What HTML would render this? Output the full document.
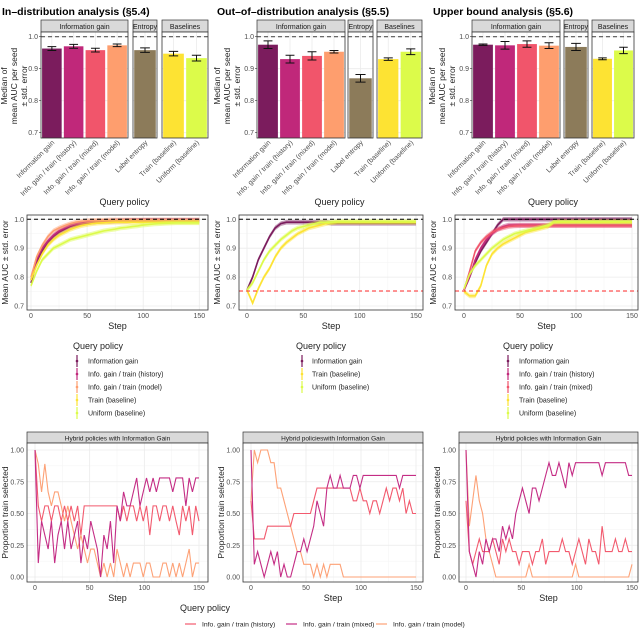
<!DOCTYPE html>
<html><head><meta charset="utf-8">
<style>
html,body{margin:0;padding:0;background:#fff;}
svg{display:block;font-family:"Liberation Sans",sans-serif;}
</style></head>
<body>
<svg id="fig" width="640" height="635" viewBox="0 0 640 635" xmlns="http://www.w3.org/2000/svg"></svg>
<script>
// ---------- DATA ----------
const barPolicies = ["Information gain","Info. gain / train (history)","Info. gain / train (mixed)","Info. gain / train (model)","Label entropy","Train (baseline)","Uniform (baseline)"];
const barColors = ["#7b1c5d","#c0287a","#f1556b","#fe9e6e","#8c7b5a","#fde333","#dcfb4a"];
const barValuesID = [0.963,0.970,0.958,0.973,0.958,0.947,0.933];
const barErrID = [0.006,0.006,0.006,0.004,0.007,0.007,0.009];
const barValuesOOD = [0.975,0.930,0.940,0.953,0.870,0.930,0.953];
const barErrOOD = [0.012,0.012,0.013,0.004,0.012,0.004,0.009];
const barValuesUB = [0.975,0.973,0.977,0.972,0.968,0.931,0.957];
const barErrUB = [0.002,0.012,0.010,0.009,0.011,0.003,0.010];
const barTicks = [0.7,0.8,0.9,1.0];

const curveSteps = [0,5,10,15,20,25,30,35,40,45,50,55,60,65,70,75,80,85,90,95,100,105,110,115,120,125,130,135,140,145,150];
const idIG = [0.78,0.85,0.89,0.92,0.94,0.955,0.965,0.975,0.98,0.985,0.988,0.99,0.992,0.993,0.994,0.995,0.995,0.996,0.996,0.996,0.997,0.997,0.997,0.997,0.997,0.997,0.997,0.997,0.997,0.997,0.997];
const idHist = [0.79,0.86,0.90,0.925,0.945,0.96,0.97,0.978,0.983,0.987,0.99,0.991,0.992,0.993,0.993,0.994,0.994,0.994,0.995,0.995,0.995,0.995,0.995,0.995,0.995,0.995,0.995,0.995,0.995,0.995,0.995];
const idModel = [0.80,0.87,0.91,0.94,0.96,0.97,0.978,0.985,0.99,0.993,0.995,0.996,0.997,0.997,0.998,0.998,0.998,0.998,0.998,0.998,0.998,0.998,0.998,0.998,0.998,0.998,0.998,0.998,0.998,0.998,0.998];
const idTrain = [0.79,0.84,0.88,0.91,0.93,0.945,0.955,0.965,0.972,0.978,0.982,0.985,0.987,0.988,0.989,0.99,0.99,0.99,0.99,0.99,0.99,0.99,0.99,0.99,0.99,0.99,0.99,0.99,0.99,0.99,0.99];
const idUnif = [0.77,0.82,0.86,0.88,0.90,0.91,0.92,0.93,0.935,0.94,0.945,0.95,0.955,0.96,0.963,0.966,0.97,0.972,0.975,0.977,0.98,0.982,0.984,0.985,0.986,0.987,0.988,0.988,0.988,0.988,0.988];
const oodIG = [0.755,0.80,0.86,0.90,0.94,0.97,0.985,0.99,0.99,0.99,0.99,0.99,0.99,0.99,0.99,0.986,0.986,0.986,0.986,0.986,0.986,0.986,0.986,0.986,0.986,0.986,0.986,0.986,0.986,0.986,0.986];
const oodTrain = [0.755,0.71,0.76,0.80,0.83,0.87,0.90,0.92,0.935,0.95,0.96,0.97,0.975,0.98,0.985,0.988,0.99,0.99,0.99,0.99,0.99,0.99,0.99,0.99,0.99,0.99,0.99,0.99,0.99,0.99,0.99];
const oodUnif = [0.755,0.78,0.82,0.86,0.89,0.91,0.93,0.945,0.96,0.97,0.975,0.98,0.985,0.99,0.99,0.99,0.992,0.992,0.992,0.992,0.992,0.992,0.992,0.992,0.992,0.992,0.992,0.992,0.992,0.992,0.992];
const ubIG = [0.755,0.80,0.85,0.89,0.92,0.95,0.98,1.0,1.0,1.0,1.0,1.0,1.0,1.0,1.0,1.0,1.0,1.0,1.0,1.0,1.0,1.0,1.0,1.0,1.0,1.0,1.0,1.0,1.0,1.0,1.0];
const ubHist = [0.755,0.80,0.86,0.90,0.93,0.95,0.965,0.975,0.98,0.98,0.98,0.98,0.98,0.98,0.98,0.98,0.98,0.98,0.98,0.98,0.98,0.98,0.98,0.98,0.98,0.98,0.98,0.98,0.98,0.98,0.98];
const ubMixed = [0.755,0.82,0.89,0.92,0.94,0.955,0.965,0.97,0.975,0.977,0.978,0.978,0.978,0.978,0.978,0.978,0.978,0.978,0.978,0.978,0.978,0.978,0.978,0.978,0.978,0.978,0.978,0.978,0.978,0.978,0.978];
const ubTrain = [0.75,0.735,0.735,0.77,0.84,0.88,0.90,0.915,0.925,0.935,0.945,0.955,0.96,0.965,0.97,0.975,0.99,0.99,0.99,0.99,0.99,0.99,0.99,0.99,0.99,0.99,0.99,0.99,0.99,0.99,0.99];
const ubUnif = [0.76,0.81,0.84,0.86,0.88,0.90,0.915,0.93,0.94,0.95,0.955,0.96,0.965,0.97,0.975,0.98,0.99,0.992,0.992,0.992,0.992,0.992,0.992,0.992,0.992,0.992,0.992,0.992,0.992,0.992,0.992];
const curveTicks = [0.7,0.8,0.9,1.0];
const stepTicks = [0,50,100,150];

const propStepSize = 3;
const id_hist = [1,.56,.44,.56,.56,.44,.56,.56,.44,.56,.44,.56,.44,.56,.33,.56,.56,.56,.56,.56,.56,.56,.56,.56,.56,.56,.44,.56,.44,.56,.56,.44,.56,.44,.56,.33,.56,.56,.44,.56,.56,.44,.56,.44,.33,.56,.44,.56,.33,.56,.44];
const id_mixed = [1,.11,.44,.33,.22,.44,.11,.33,.44,.22,.44,.22,.33,.44,.11,.33,.22,.44,.33,.22,0,.33,.22,.44,.11,.56,.44,.67,.56,.56,.67,.78,.56,.67,.78,.67,.78,.67,.78,.78,.78,.78,.67,.78,.78,.78,.56,.78,.67,.78,.78];
const id_model = [1,.89,.67,.89,.67,.56,.67,.67,.56,.44,.56,.44,.33,.22,.33,.22,.11,.22,.22,.11,0,.11,0,.11,0,.22,.11,0,.11,0,.11,.11,.11,0,.11,.11,0,0,0,.11,.11,0,.11,0,.11,0,.11,.22,0,.11,.11];
const ood_hist = [.6,.3,.3,.3,.3,.4,.4,.4,.4,.4,.4,.4,.4,.5,.5,.5,.5,.5,.5,.6,.7,.7,.7,.7,.7,.7,.7,.7,.7,.7,.7,.6,.6,.7,.6,.6,.5,.6,.6,.5,.6,.7,.6,.7,.7,.6,.7,.5,.6,.5,.5];
const ood_mixed = [1,.1,.2,.1,0,.1,.2,.1,.2,0,.1,0,0,.1,.2,.2,.3,.2,.3,.4,.6,.5,.4,.7,.8,.7,.7,.8,.7,.7,.7,.8,.8,.7,.8,.8,.8,.8,.8,.8,.8,.8,.8,.8,.8,.7,.8,.8,.8,.8,.8];
const ood_model = [.6,1,.9,1,1,1,.9,.9,.7,.7,.6,.5,.4,.3,.2,.2,.1,.1,.1,0,.1,0,.1,0,.1,.1,.1,.1,0,0,0,0,0,0,0,0,0,0,0,0,0,0,0,0,0,0,0,0,0,0,0];
const ub_hist = [.6,.2,.1,.2,.3,.2,.2,.2,.3,.2,.1,.3,.2,.3,.2,.2,.1,.2,.2,.2,.1,.2,.2,.3,.1,.2,.2,.2,.2,.3,.2,.2,.1,.2,.3,.2,.1,.3,.2,.2,.1,.4,.2,.2,.2,.3,.2,.2,.3,.2,.2];
const ub_mixed = [1,.2,.1,0,.2,.1,.3,.2,.3,.3,.2,.4,.3,.4,.3,.5,.6,.7,.6,.5,.7,.7,.6,.7,.8,.9,.8,.8,.9,.8,.7,.9,.8,.9,.9,.9,.9,.9,.9,.9,.9,.8,.9,.9,.9,.9,.9,.9,.9,.8,.8];
const ub_model = [1,.4,.6,.8,.6,.5,.3,.2,.1,0,0,0,0,0,0,0,0,0,0,.1,0,0,0,0,0,0,0,0,0,0,0,0,0,.1,0,0,0,0,0,0,0,0,0,0,0,0,0,0,0,0,.1];
const propTicks = [0,0.25,0.5,0.75,1.0];
const propTickLabels = ["0.00","0.25","0.50","0.75","1.00"];

// ---------- HELPERS ----------
const NS="http://www.w3.org/2000/svg";
const svg=document.getElementById('fig');
function mk(tag,attrs,parent){const e=document.createElementNS(NS,tag);for(const k in attrs)e.setAttribute(k,attrs[k]);(parent||svg).appendChild(e);return e;}
function txt(s,x,y,size,opts,parent){opts=opts||{};const e=mk('text',{x:x,y:y,'font-size':size,fill:opts.fill||'#222','text-anchor':opts.anchor||'start'},parent);if(opts.weight)e.setAttribute('font-weight',opts.weight);if(opts.rot!==undefined)e.setAttribute('transform','rotate('+opts.rot+' '+x+' '+y+')');e.textContent=s;return e;}

// ---------- TOP BAR CHARTS ----------
const titles=["In–distribution analysis (§5.4)","Out–of–distribution analysis (§5.5)","Upper bound analysis (§5.6)"];
const titleX=[2,217,433];
const barVals=[barValuesID,barValuesOOD,barValuesUB];
const barErrs=[barErrID,barErrOOD,barErrUB];
const facetLayouts=[
 [[41,128],[133,157],[162,208]],
 [[257,345],[348,373],[377,422]],
 [[472,560],[564,588],[592,634]]];
const facetNames=["Information gain","Entropy","Baselines"];
const facetIdx=[[0,1,2,3],[4],[5,6]];
const yTitleX=[[7,17,27],[220,230,240],[435,445,455]];
const yBar=v=>36.7+(1.0-v)*320;
const barTop=32,barBot=138;
for(let c=0;c<3;c++){
  const g=mk('g',{},svg);
  
  
  const t=txt(titles[c],titleX[c],15,10.5,{weight:'bold',fill:'#000'},g);
  
  ["Median of","mean AUC per seed","± std. error"].forEach((s,i)=>{const e=txt(s,yTitleX[c][i],86,8.5,{anchor:'middle',rot:-90},g);});
  facetLayouts[c].forEach((f,fi)=>{
    const x0=f[0],x1=f[1];
    const strip=mk('rect',{x:x0,y:20,width:x1-x0,height:12,fill:'#d9d9d9',stroke:'#333','stroke-width':0.7},g);
    
    txt(facetNames[fi],(x0+x1)/2,29,7,{anchor:'middle',fill:'#1a1a1a'},g);
    mk('rect',{x:x0,y:barTop,width:x1-x0,height:barBot-barTop,fill:'#fff'},g);
    barTicks.forEach(v=>mk('line',{x1:x0,x2:x1,y1:yBar(v),y2:yBar(v),stroke:'#ebebeb','stroke-width':0.8},g));
    const idxs=facetIdx[fi];
    const n=idxs.length,slot=(x1-x0)/n;
    idxs.forEach((pi,k)=>{
      const cx=x0+slot*(k+0.5),bw=slot*0.9,v=barVals[c][pi],er=barErrs[c][pi];
      mk('line',{x1:cx,x2:cx,y1:barTop,y2:barBot,stroke:'#ebebeb','stroke-width':0.8},g);
      const r=mk('rect',{x:cx-bw/2,y:yBar(v),width:bw,height:barBot-yBar(v),fill:barColors[pi]},g);
      
      
      const ew=bw*0.45;
      mk('path',{d:`M${cx-ew/2},${yBar(v+er)}H${cx+ew/2}M${cx},${yBar(v+er)}V${yBar(v-er)}M${cx-ew/2},${yBar(v-er)}H${cx+ew/2}`,stroke:'#111','stroke-width':1,fill:'none'},g);
      const lab=txt(barPolicies[pi],cx+3,143,7,{anchor:'end',rot:-45,fill:'#4d4d4d'},g);
      
    });
    mk('line',{x1:x0,x2:x1,y1:yBar(1.0),y2:yBar(1.0),stroke:'#555','stroke-width':1.2,'stroke-dasharray':'4,3'},g);
    mk('rect',{x:x0,y:barTop,width:x1-x0,height:barBot-barTop,fill:'none',stroke:'#333','stroke-width':0.8},g);
  });
  const px=facetLayouts[c][0][0];
  barTicks.forEach(v=>{txt(v.toFixed(1),px-3,yBar(v)+2.5,7,{anchor:'end',fill:'#4d4d4d'},g);mk('line',{x1:px-2,x2:px,y1:yBar(v),y2:yBar(v),stroke:'#333','stroke-width':0.6},g);});
  const xt=txt("Query policy",(facetLayouts[c][0][0]+facetLayouts[c][2][1])/2,205,9,{anchor:'middle'},g);
  
}

// ---------- MIDDLE LINE CHARTS ----------
const curveCols=[
 {px0:27,px1:208,x0:31,x150:199.3,series:[[idIG,0],[idHist,1],[idModel,3],[idTrain,5],[idUnif,6]],red:false,lgT:73,lgK:77,lgX:88},
 {px0:239,px1:423,x0:247,x150:416,series:[[oodIG,0],[oodTrain,5],[oodUnif,6]],red:true,lgT:296,lgK:302,lgX:312},
 {px0:455,px1:638,x0:464,x150:632,series:[[ubIG,0],[ubHist,1],[ubMixed,2],[ubTrain,5],[ubUnif,6]],red:true,lgT:503,lgK:508,lgX:519}];
const mTop=215,mBot=310;
const yCurve=v=>219.3+(1.0-v)*289;
curveCols.forEach((cc,ci)=>{
  const g=mk('g',{},svg);
  
  
  const xS=s=>cc.x0+(cc.x150-cc.x0)*s/150;
  mk('rect',{x:cc.px0,y:mTop,width:cc.px1-cc.px0,height:mBot-mTop,fill:'#fff'},g);
  [0.75,0.85,0.95].forEach(v=>mk('line',{x1:cc.px0,x2:cc.px1,y1:yCurve(v),y2:yCurve(v),stroke:'#f3f3f3','stroke-width':0.5},g));
  [25,75,125].forEach(s=>mk('line',{x1:xS(s),x2:xS(s),y1:mTop,y2:mBot,stroke:'#f3f3f3','stroke-width':0.5},g));
  curveTicks.forEach(v=>mk('line',{x1:cc.px0,x2:cc.px1,y1:yCurve(v),y2:yCurve(v),stroke:'#ebebeb','stroke-width':0.8},g));
  stepTicks.forEach(s=>mk('line',{x1:xS(s),x2:xS(s),y1:mTop,y2:mBot,stroke:'#ebebeb','stroke-width':0.8},g));
  cc.series.forEach(([arr,pi])=>{
    const col=barColors[pi];
    const up=curveSteps.map((s,i)=>xS(s)+','+yCurve(Math.min(arr[i]+0.008,1.012))).join(' ');
    const dn=curveSteps.map((s,i)=>xS(s)+','+yCurve(arr[i]-0.008)).reverse().join(' ');
    const band=mk('polygon',{points:up+' '+dn,fill:col,opacity:0.45},g);
    
    const ln=mk('polyline',{points:curveSteps.map((s,i)=>xS(s)+','+yCurve(arr[i])).join(' '),fill:'none',stroke:col,'stroke-width':1.6},g);
    
    
  });
  mk('line',{x1:cc.px0,x2:cc.px1,y1:yCurve(1.0),y2:yCurve(1.0),stroke:'#000','stroke-width':1,'stroke-dasharray':'4,3'},g);
  if(cc.red) mk('line',{x1:cc.px0,x2:cc.px1,y1:yCurve(0.752),y2:yCurve(0.752),stroke:'#ff2a2a','stroke-width':1,'stroke-dasharray':'4,3'},g);
  mk('rect',{x:cc.px0,y:mTop,width:cc.px1-cc.px0,height:mBot-mTop,fill:'none',stroke:'#333','stroke-width':0.8},g);
  curveTicks.forEach(v=>txt(v.toFixed(1),cc.px0-3,yCurve(v)+2.5,7,{anchor:'end',fill:'#4d4d4d'},g));
  stepTicks.forEach(s=>txt(String(s),xS(s),318,7,{anchor:'middle',fill:'#4d4d4d'},g));
  const xt=txt("Step",(cc.px0+cc.px1)/2,329,9,{anchor:'middle'},g);
  const yt=txt("Mean AUC ± std. error",cc.px0-19,(mTop+mBot)/2,8.5,{anchor:'middle',rot:-90},g);
  const lt=txt("Query policy",cc.lgT,349,9,{},g);
  cc.series.forEach(([arr,pi],k)=>{
    const y=361+k*13;
    const le=mk('g',{},g);
    
    
    mk('line',{x1:cc.lgK,x2:cc.lgK,y1:y-6,y2:y+6,stroke:barColors[pi],'stroke-width':1.2},le);
    mk('circle',{cx:cc.lgK,cy:y,r:1.3,fill:barColors[pi]},le);
    txt(barPolicies[pi],cc.lgX,y+2.5,7,{},le);
  });
});

// ---------- BOTTOM PROPORTION CHARTS ----------
const histCol="#f25a6e",mixedCol="#c42d85",modelCol="#fda176";
const propCols=[
 {px0:27,px1:208,x0:35,x150:199,series:[id_hist,id_mixed,id_model],title:"Hybrid policies with Information Gain"},
 {px0:243,px1:423,x0:251,x150:416,series:[ood_hist,ood_mixed,ood_model],title:"Hybrid policieswith Information Gain"},
 {px0:459,px1:638,x0:466,x150:632,series:[ub_hist,ub_mixed,ub_model],title:"Hybrid policies with Information Gain"}];
const pTop=443,pBot=582;
const yProp=v=>577-v*127;
const propColors=[histCol,mixedCol,modelCol];
const propNames=["history","mixed","model"];
propCols.forEach((pc,ci)=>{
  const g=mk('g',{},svg);
  
  
  const xS=s=>pc.x0+(pc.x150-pc.x0)*s/150;
  const strip=mk('rect',{x:pc.px0,y:432,width:pc.px1-pc.px0,height:11,fill:'#d9d9d9',stroke:'#333','stroke-width':0.7},g);
  
  txt(pc.title,(pc.px0+pc.px1)/2,440.5,6.5,{anchor:'middle',fill:'#1a1a1a'},g);
  mk('rect',{x:pc.px0,y:pTop,width:pc.px1-pc.px0,height:pBot-pTop,fill:'#fff'},g);
  [0.125,0.375,0.625,0.875].forEach(v=>mk('line',{x1:pc.px0,x2:pc.px1,y1:yProp(v),y2:yProp(v),stroke:'#f3f3f3','stroke-width':0.5},g));
  [25,75,125].forEach(s=>mk('line',{x1:xS(s),x2:xS(s),y1:pTop,y2:pBot,stroke:'#f3f3f3','stroke-width':0.5},g));
  propTicks.forEach(v=>mk('line',{x1:pc.px0,x2:pc.px1,y1:yProp(v),y2:yProp(v),stroke:'#ebebeb','stroke-width':0.8},g));
  stepTicks.forEach(s=>mk('line',{x1:xS(s),x2:xS(s),y1:pTop,y2:pBot,stroke:'#ebebeb','stroke-width':0.8},g));
  [2,0,1].forEach(k=>{
    const arr=pc.series[k];
    let d='';
    arr.forEach((v,i)=>{const s=Math.min(i*propStepSize,150);d+=(i?'L':'M')+xS(s)+','+yProp(v);});
    const p=mk('path',{d:d,fill:'none',stroke:propColors[k],'stroke-width':1.1},g);
    
    
  });
  mk('rect',{x:pc.px0,y:pTop,width:pc.px1-pc.px0,height:pBot-pTop,fill:'none',stroke:'#333','stroke-width':0.8},g);
  propTicks.forEach((v,i)=>txt(propTickLabels[i],pc.px0-3,yProp(v)+2.5,7,{anchor:'end',fill:'#4d4d4d'},g));
  stepTicks.forEach(s=>txt(String(s),xS(s),590,7,{anchor:'middle',fill:'#4d4d4d'},g));
  const xt=txt("Step",(pc.px0+pc.px1)/2,601,9,{anchor:'middle'},g);
  const yt=txt("Proportion train selected",pc.px0-19,(pTop+pBot)/2,8.5,{anchor:'middle',rot:-90},g);
});
// bottom legend
const bl=mk('g',{},svg);


txt("Query policy",180,611,9,{},bl);
const blX=[185,286,376];
["Info. gain / train (history)","Info. gain / train (mixed)","Info. gain / train (model)"].forEach((s,k)=>{
  const le=mk('g',{},bl);
  
  
  mk('line',{x1:blX[k],x2:blX[k]+11,y1:624,y2:624,stroke:propColors[k],'stroke-width':1.2},le);
  txt(s,blX[k]+17,626.5,6.8,{},le);
});
</script>
</body></html>
